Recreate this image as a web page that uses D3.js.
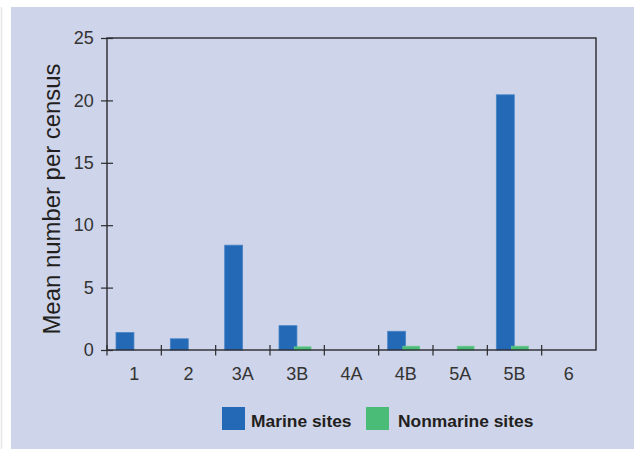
<!DOCTYPE html>
<html>
<head>
<meta charset="utf-8">
<script src="https://cdn.jsdelivr.net/npm/d3@7"></script>
<style>
  html, body { margin: 0; padding: 0; background: #ffffff; }
  svg { display: block; }
  text { font-family: "Liberation Sans", Arial, Helvetica, sans-serif; }
</style>
</head>
<body>
<svg id="chart" width="634" height="449"></svg>
<script>
// ---- data ----
const categories = ["1", "2", "3A", "3B", "4A", "4B", "5A", "5B", "6"];
const seriesNames = ["Marine sites", "Nonmarine sites"];
const marineValues = [1.4, 0.9, 8.4, 1.95, 0, 1.5, 0, 20.45, 0];
const nonmarineValues = [0, 0, 0, 0.25, 0, 0.3, 0.3, 0.3, 0];
const yTickValues = [0, 5, 10, 15, 20, 25];
const yTitle = "Mean number per census";

const colors = { "Marine sites": "#2369b5", "Nonmarine sites": "#4bbc77" };
const strokes = { "Marine sites": "#4a86c8", "Nonmarine sites": "#62c98a" };

const svg = d3.select("#chart");

// background panel
svg.append("rect").attr("x", 0).attr("y", 0).attr("width", 634).attr("height", 449).attr("fill", "#ffffff");
svg.append("line").attr("x1", 1.5).attr("x2", 1.5).attr("y1", 7).attr("y2", 449)
  .attr("stroke", "#e6e6e6").attr("stroke-width", 1.5);
svg.append("rect").attr("x", 11).attr("y", 7).attr("width", 623).attr("height", 442).attr("fill", "#ced4e9");

const plotLeft = 107, plotRight = 596, plotTop = 38, plotBottom = 350;

const x = d3.scaleBand().domain(categories).range([plotLeft, plotRight]).padding(0);
const x1 = d3.scaleBand().domain(seriesNames).range([9, 42.5]).padding(0);
const y = d3.scaleLinear().domain([0, 25]).range([plotBottom, plotTop]);

const data = categories.map((c, i) => ({
  cat: c,
  values: [
    { key: "Marine sites", v: marineValues[i] },
    { key: "Nonmarine sites", v: nonmarineValues[i] }
  ]
}));

// bars
const groups = svg.append("g").selectAll("g").data(data).join("g")
  .attr("transform", d => `translate(${x(d.cat)},0)`);
groups.selectAll("rect").data(d => d.values.filter(v => v.v > 0)).join("rect")
  .attr("x", d => x1(d.key) + (d.key === "Marine sites" ? 0 : -1.5))
  .attr("width", d => x1.bandwidth() + (d.key === "Marine sites" ? 1.2 : 0))
  .attr("y", d => y(d.v))
  .attr("height", d => plotBottom - y(d.v))
  .attr("fill", d => colors[d.key])
  .attr("stroke", d => strokes[d.key])
  .attr("stroke-width", 0.8);

// frame
svg.append("rect").attr("x", plotLeft).attr("y", plotTop)
  .attr("width", plotRight - plotLeft).attr("height", plotBottom - plotTop)
  .attr("fill", "none").attr("stroke", "#2b2a2e").attr("stroke-width", 1.4);

// y axis
const yAxis = d3.axisLeft(y).tickValues(yTickValues).tickSize(6).tickPadding(7.3).tickFormat(d3.format("d"));
const gy = svg.append("g").attr("transform", `translate(${plotLeft},0)`).call(yAxis);
gy.select(".domain").remove();
gy.selectAll(".tick line").attr("x1", 6).attr("stroke", "#2b2a2e").attr("stroke-width", 1.2);
gy.selectAll(".tick text")
  .attr("font-size", 18).attr("fill", "#333333")
  .attr("font-family", "Liberation Sans, Arial, sans-serif");

// x axis (labels at category centres)
const xAxis = d3.axisBottom(x).tickSize(0).tickPadding(17);
const gx = svg.append("g").attr("transform", `translate(0,${plotBottom})`).call(xAxis);
gx.select(".domain").remove();
gx.selectAll(".tick text")
  .attr("font-size", 18).attr("fill", "#333333")
  .attr("font-family", "Liberation Sans, Arial, sans-serif");

// x boundary ticks
svg.append("g").selectAll("line").data(categories).join("line")
  .attr("x1", d => x(d)).attr("x2", d => x(d))
  .attr("y1", plotBottom - 5).attr("y2", plotBottom + 5.5)
  .attr("stroke", "#2b2a2e").attr("stroke-width", 1.2);

// y title
svg.append("text")
  .attr("transform", `translate(60,199) rotate(-90) scale(1.04,1)`)
  .attr("text-anchor", "middle")
  .attr("font-size", 23).attr("fill", "#231f20")
  .text(yTitle);

// legend
const legendX = [222, 366];
const legendTextX = [251, 398];
const legend = svg.append("g").selectAll("g").data(seriesNames).join("g");
legend.append("rect")
  .attr("x", (d, i) => legendX[i]).attr("y", 407)
  .attr("width", 23).attr("height", 23).attr("fill", d => colors[d]);
legend.append("text")
  .attr("x", (d, i) => legendTextX[i]).attr("y", 426.5)
  .attr("font-size", 17.4).attr("font-weight", "bold").attr("fill", "#231f20")
  .text(d => d);
</script>
</body>
</html>
